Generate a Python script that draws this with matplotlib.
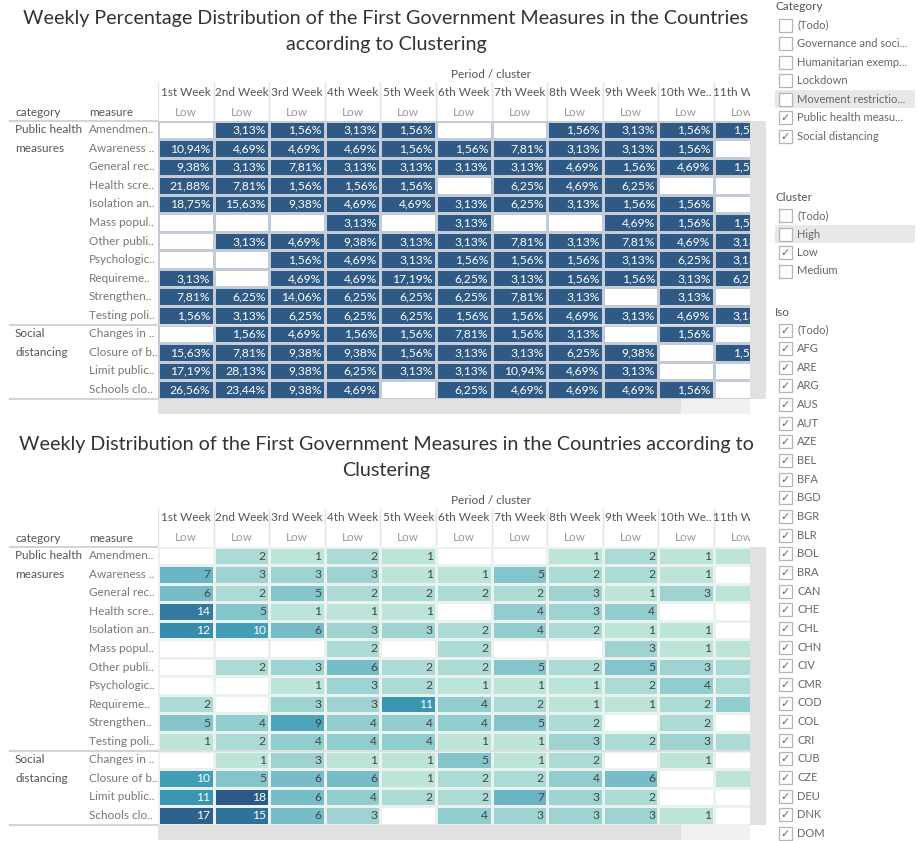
import matplotlib.pyplot as plt
import numpy as np
from matplotlib.colors import LinearSegmentedColormap, ListedColormap, Normalize
from matplotlib.patches import Rectangle

plt.rcParams['font.family'] = ['Lato', 'DejaVu Sans']

W, H = 919, 841

# ---- data -------------------------------------------------------------
weeks = ['1st Week', '2nd Week', '3rd Week', '4th Week', '5th Week', '6th Week',
         '7th Week', '8th Week', '9th Week', '10th We..', '11th Week']
cluster_label = 'Low'

groups = ['Public health\nmeasures', 'Social\ndistancing']
group_sizes = [11, 4]
measures = ['Amendmen..', 'Awareness ..', 'General rec..', 'Health scre..',
            'Isolation an..', 'Mass popul..', 'Other publi..', 'Psychologic..',
            'Requireme..', 'Strengthen..', 'Testing poli..',
            'Changes in ..', 'Closure of b..', 'Limit public..', 'Schools clo..']

# number of countries taking each measure first, per week (None = no cell)
counts = np.array([
    [None, 2, 1, 2, 1, None, None, 1, 2, 1, 1],
    [7, 3, 3, 3, 1, 1, 5, 2, 2, 1, None],
    [6, 2, 5, 2, 2, 2, 2, 3, 1, 3, 1],
    [14, 5, 1, 1, 1, None, 4, 3, 4, None, None],
    [12, 10, 6, 3, 3, 2, 4, 2, 1, 1, None],
    [None, None, None, 2, None, 2, None, None, 3, 1, 1],
    [None, 2, 3, 6, 2, 2, 5, 2, 5, 3, 2],
    [None, None, 1, 3, 2, 1, 1, 1, 2, 4, 2],
    [2, None, 3, 3, 11, 4, 2, 1, 1, 2, 4],
    [5, 4, 9, 4, 4, 4, 5, 2, None, 2, None],
    [1, 2, 4, 4, 4, 1, 1, 3, 2, 3, 2],
    [None, 1, 3, 1, 1, 5, 1, 2, None, 1, None],
    [10, 5, 6, 6, 1, 2, 2, 4, 6, None, 1],
    [11, 18, 6, 4, 2, 2, 7, 3, 2, None, None],
    [17, 15, 6, 3, None, 4, 3, 3, 3, 1, None],
], dtype=float)

n_countries = 64  # countries in the Low cluster; top table is share of them
pct = counts / n_countries * 100

category_opts = ['(Todo)', 'Governance and soci...', 'Humanitarian exemp...', 'Lockdown',
                 'Movement restrictio...', 'Public health measu...', 'Social distancing']
category_on = [False, False, False, False, False, True, True]
cluster_opts = ['(Todo)', 'High', 'Low', 'Medium']
cluster_on = [False, False, True, False]
iso_opts = ['(Todo)', 'AFG', 'ARE', 'ARG', 'AUS', 'AUT', 'AZE', 'BEL', 'BFA', 'BGD',
            'BGR', 'BLR', 'BOL', 'BRA', 'CAN', 'CHE', 'CHL', 'CHN', 'CIV', 'CMR',
            'COD', 'COL', 'CRI', 'CUB', 'CZE', 'DEU', 'DNK', 'DOM']
iso_on = [True] * len(iso_opts)

# ---- figure -------------------------------------------------------------
fig = plt.figure(figsize=(W / 100, H / 100), dpi=100)


def px_axes(x0, y0, x1, y1, z=1):
    ax = fig.add_axes([x0 / W, 1 - y1 / H, (x1 - x0) / W, (y1 - y0) / H], zorder=z)
    ax.axis('off')
    return ax


bg = px_axes(0, 0, W, H, z=0)
bg.set_xlim(0, W)
bg.set_ylim(H, 0)

GX0, GX1, COL_W, ROW_H = 158, 750, 55.6, 18.55
n_rows, n_cols = counts.shape
grey = '#555555'

blue_teal = ['#bce4d8', '#aedcd5', '#a1d5d2', '#95cecf', '#89c8cc', '#7ec1ca', '#72bac6',
             '#66b2c2', '#59acbe', '#4ba5ba', '#419eb6', '#3b96b2', '#358ead', '#3586a7',
             '#347ea1', '#32779b', '#316f96', '#2f6790', '#2d608a', '#2c5985']


def fmt_pct(v):
    return '{:.2f}%'.format(np.floor(v * 100 + 0.5) / 100).replace('.', ',')


def draw_table(dy, values, title, cmap, norm, edge, fmt, txt_color):
    for k, line in enumerate(title):
        bg.text(386, dy + 18 + 26 * k, line, ha='center', va='center',
                fontsize=14.2, color='#333333')
    bg.text(491, dy + 74, 'Period / cluster', ha='center', va='center',
            fontsize=8.5, color=grey)
    g_top = dy + 120.5
    g_bot = g_top + n_rows * ROW_H

    # column headers
    hh = px_axes(GX0, dy + 82, GX1, g_top)
    hh.set_xlim(0, (GX1 - GX0) / COL_W)
    hh.set_ylim(g_top, dy + 82)
    hh.vlines(np.arange(n_cols + 1), dy + 82, g_top, colors='#e2e2e2', lw=1)
    for j, wk in enumerate(weeks):
        hh.text(j + 0.5, dy + 92, wk, ha='center', va='center', fontsize=8.5,
                color=grey, clip_on=True)
        hh.text(j + 0.5, dy + 112, cluster_label, ha='center', va='center',
                fontsize=8.5, color='#999999', clip_on=True)

    # row headers
    la = px_axes(0, g_top, GX0, g_bot)
    la.set_xlim(0, GX0)
    la.set_ylim(n_rows, 0)
    bg.text(15, dy + 112, 'category', ha='left', va='center', fontsize=8.5, color=grey)
    bg.text(89, dy + 112, 'measure', ha='left', va='center', fontsize=8.5, color=grey)
    start = 0
    for g, size in zip(groups, group_sizes):
        for k, part in enumerate(g.split('\n')):
            la.text(15, start + k + 0.5, part, ha='left', va='center',
                    fontsize=8.5, color=grey)
        start += size
    la.hlines(np.cumsum([0] + group_sizes), 9, GX0, colors='#d4d4d4', lw=1.5,
              clip_on=False)
    for i, m in enumerate(measures):
        la.text(89, i + 0.5, m, ha='left', va='center', fontsize=8.5, color='#777777')

    # scrollbars
    bg.add_patch(Rectangle((GX1, g_top), 16, g_bot - g_top, color='#e1e1e1', lw=0))
    bg.add_patch(Rectangle((GX0, g_bot), 681 - GX0, 15, color='#e1e1e1', lw=0))
    bg.add_patch(Rectangle((681, g_bot), GX1 - 681, 15, color='#f1f1f1', lw=0))

    # cells
    hx = px_axes(GX0, g_top, GX1, g_bot, z=2)
    hx.set_xlim(0, (GX1 - GX0) / COL_W)
    hx.set_ylim(n_rows, 0)
    hx.vlines(np.arange(1, n_cols + 1), 0, n_rows, colors='#e4e4e4', lw=1, zorder=0)
    hx.pcolormesh(np.arange(n_cols + 1), np.arange(n_rows + 1),
                  np.ma.masked_invalid(values), cmap=cmap, norm=norm,
                  edgecolors=edge, linewidth=0.9)
    hx.axhline(group_sizes[0], color='#dddddd', lw=1.3)
    for i in range(n_rows):
        for j in range(n_cols):
            v = values[i, j]
            if np.isnan(v):
                continue
            hx.text(j + 1 - 0.06, i + 0.52, fmt(v), ha='right', va='center',
                    fontsize=8.7, color=txt_color(v), clip_on=True)


draw_table(0, pct,
           ['Weekly Percentage Distribution of the First Government Measures in the Countries',
            'according to Clustering'],
           ListedColormap(['#2f5a86']), Normalize(0, 100), '#c3ccd6', fmt_pct,
           lambda v: 'white')

draw_table(426, counts,
           ['Weekly Distribution of the First Government Measures in the Countries according to',
            'Clustering'],
           LinearSegmentedColormap.from_list('blue_teal', blue_teal),
           Normalize(np.nanmin(counts), np.nanmax(counts)), '#eaf2f0',
           lambda v: '{:.0f}'.format(v),
           lambda v: 'white' if v >= 10 else '#444444')


# ---- filter panel -------------------------------------------------------
def draw_filter(title, opts, on, y_title, y_first, step, highlight=None):
    bg.text(775, y_title, title, ha='left', va='center', fontsize=8.5, color=grey)
    for k, (name, checked) in enumerate(zip(opts, on)):
        y = y_first + k * step
        if k == highlight:
            bg.add_patch(Rectangle((775, y - 9), 140, 18, color='#e8e8e8', lw=0))
        bg.add_patch(Rectangle((778.5, y - 6.5), 13, 13, facecolor='white',
                               edgecolor='#b5b5b5', lw=0.9))
        if checked:
            bg.text(785, y + 0.5, '\u2713', ha='center', va='center', fontsize=8,
                    color='#666666', family='DejaVu Sans')
        bg.text(797, y, name, ha='left', va='center', fontsize=8, color='#666666')


draw_filter('Category', category_opts, category_on, 6, 25, 18.5, highlight=4)
draw_filter('Cluster', cluster_opts, cluster_on, 197, 215.5, 18.5, highlight=1)
draw_filter('Iso', iso_opts, iso_on, 312, 330, 18.65)

fig.savefig('out.png', dpi=100)
